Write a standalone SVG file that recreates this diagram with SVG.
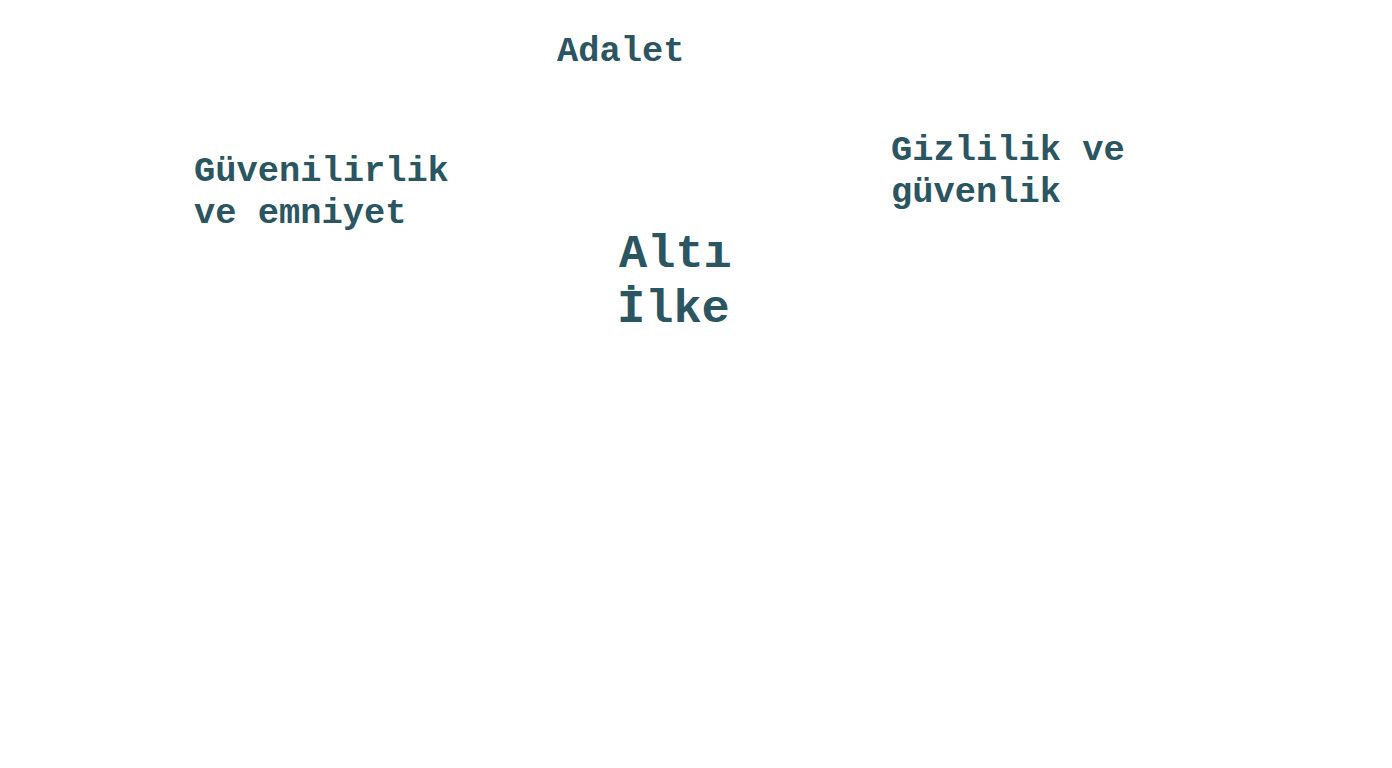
<svg xmlns="http://www.w3.org/2000/svg" width="1392" height="768" viewBox="0 0 1392 768">
<style>
.t{font-family:"Liberation Mono","Courier New",monospace;font-weight:bold;fill:#2a5561;font-size:35.4px}
.c{font-size:47px}
</style>
<rect width="1392" height="768" fill="#ffffff"/>
<g id="connectors"></g>
<g id="center"><text class="t c" x="619" y="267">Altı</text><text class="t c" x="617" y="322">İlke</text></g>
<g id="adalet"><text class="t" x="557" y="61">Adalet</text></g>
<g id="guvenilirlik"><text class="t" x="194" y="181">Güvenilirlik</text><text class="t" x="194" y="223">ve emniyet</text></g>
<g id="gizlilik"><text class="t" x="891" y="160">Gizlilik ve</text><text class="t" x="891" y="202">güvenlik</text></g>
</svg>
